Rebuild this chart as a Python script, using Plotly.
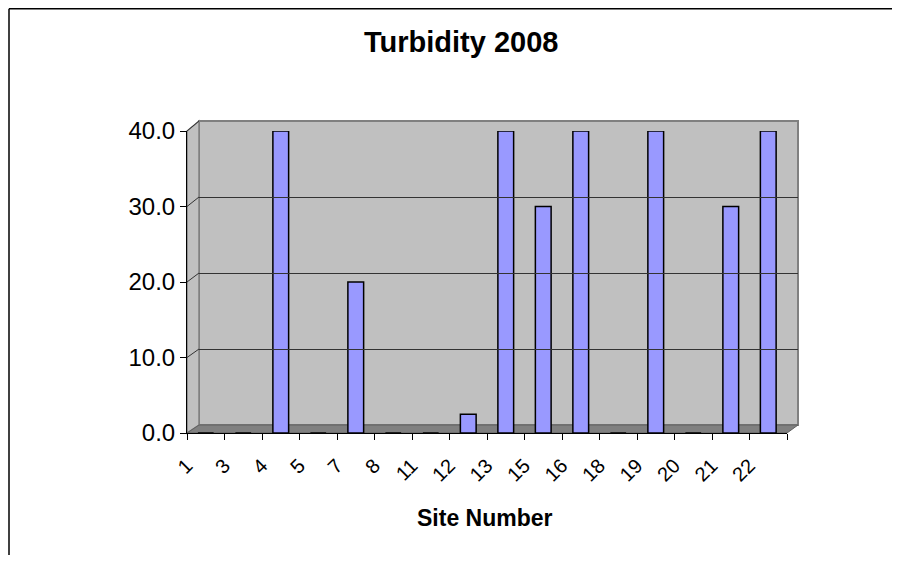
import plotly.graph_objects as go

# ---- data ----
sites = ["1", "3", "4", "5", "7", "8", "11", "12", "13", "15", "16", "18", "19", "20", "21", "22"]
turbidity = [0, 0, 40, 0, 20, 0, 0, 2.5, 40, 30, 40, 0, 40, 0, 30, 40]
y_ticks = [0, 10, 20, 30, 40]
y_tick_labels = ["0.0", "10.0", "20.0", "30.0", "40.0"]

# ---- geometry (pixels of the screenshot; page body has an 8px margin) ----
OFF = 8
W, H = 900 - 2 * OFF, 563 - 2 * OFF   # fit inside the window, no scrollbars
def px(x):
    return (x - OFF) / W
def py(y):
    return 1 - (y - OFF) / H

F_L, F_R, F_B, F_T = 187, 787, 433, 131   # front plane
B_L, B_R, B_B, B_T = 199, 798, 425, 121   # back wall
Y_MAX = 40.0

def front_y(v):
    return F_B - v / Y_MAX * (F_B - F_T)
def back_y(v):
    return B_B - v / Y_MAX * (B_B - B_T)

FONT = "Liberation Sans, Arial, sans-serif"

fig = go.Figure()
fig.add_trace(go.Bar(
    x=sites, y=turbidity, width=0.42,
    marker=dict(color="#9999FF", line=dict(color="black", width=1.5)),
    xaxis="x", yaxis="y", showlegend=False,
))
fig.add_trace(go.Scatter(x=[], y=[], xaxis="x2", yaxis="y2", showlegend=False))

shapes = []
# outer chart border (top and left edges; the rest lies outside the view)
shapes.append(dict(type="line", xref="paper", yref="paper",
                   x0=px(9), x1=1.0, y0=py(8.8), y1=py(8.8),
                   line=dict(color="black", width=1.5), layer="below"))
shapes.append(dict(type="line", xref="paper", yref="paper",
                   x0=px(9), x1=px(9), y0=0.0, y1=py(8.8),
                   line=dict(color="black", width=1.5), layer="below"))
# back wall
shapes.append(dict(type="rect", xref="x2 domain", yref="y2 domain",
                   x0=0, x1=1, y0=0, y1=1, fillcolor="#C0C0C0",
                   line=dict(color="#808080", width=2), layer="below"))
# side wall
shapes.append(dict(type="path", xref="paper", yref="paper",
                   path=f"M {px(F_L)},{py(F_B)} L {px(F_L)},{py(F_T)} L {px(B_L)},{py(B_T)} L {px(B_L)},{py(B_B)} Z",
                   fillcolor="#C0C0C0", line=dict(color="#808080", width=1.5), layer="below"))
# floor
shapes.append(dict(type="path", xref="paper", yref="paper",
                   path=f"M {px(F_L)},{py(F_B)} L {px(B_L)},{py(B_B)} L {px(B_R)},{py(B_B)} L {px(F_R)},{py(F_B)} Z",
                   fillcolor="#808080", line=dict(color="#606060", width=1), layer="below"))
# diagonal gridlines on the side wall
for v in y_ticks[1:]:
    shapes.append(dict(type="line", xref="paper", yref="paper",
                       x0=px(F_L), y0=py(front_y(v)), x1=px(B_L), y1=py(back_y(v)),
                       line=dict(color="#333333", width=1), layer="below"))

fig.update_layout(
    width=W, height=H, autosize=False,
    margin=dict(l=0, r=0, t=0, b=0, autoexpand=False),
    paper_bgcolor="white", plot_bgcolor="rgba(0,0,0,0)",
    font=dict(family=FONT, color="black"),
    xaxis=dict(
        domain=[px(F_L), px(F_R)], anchor="y", type="category", automargin=False,
        range=[-0.5, len(sites) - 0.5], tickson="boundaries",
        ticks="outside", ticklen=6, tickcolor="black", tickwidth=1,
        showline=True, linecolor="black", linewidth=1, showgrid=False,
        tickangle=-45, tickfont=dict(size=20, family=FONT),
        ticklabelshift=-19, ticklabelstandoff=12,
    ),
    yaxis=dict(
        domain=[py(F_B), py(F_T)], anchor="x", range=[0, Y_MAX], automargin=False,
        tickvals=y_ticks, ticktext=y_tick_labels,
        ticks="outside", ticklen=6, tickcolor="black", tickwidth=1,
        showline=True, linecolor="black", linewidth=1,
        showgrid=False, zeroline=False, tickfont=dict(size=24, family=FONT),
    ),
    xaxis2=dict(domain=[px(B_L), px(B_R)], anchor="y2", range=[0, 1],
                visible=False, automargin=False),
    yaxis2=dict(domain=[py(B_B), py(B_T)], anchor="x2", range=[0, Y_MAX],
                tickvals=y_ticks[1:-1], showticklabels=False, ticks="",
                showgrid=True, gridcolor="#333333", gridwidth=1,
                zeroline=False, showline=False, automargin=False),
    shapes=shapes,
    annotations=[
        dict(text="<b>Turbidity 2008</b>", xref="paper", yref="paper",
             x=px(461), y=py(42), xanchor="center", yanchor="middle",
             showarrow=False, font=dict(size=29, family=FONT)),
        dict(text="<b>Site Number</b>", xref="paper", yref="paper",
             x=px(485), y=py(518), xanchor="center", yanchor="middle",
             showarrow=False, font=dict(size=23, family=FONT)),
    ],
)

fig.write_html("out.html")
